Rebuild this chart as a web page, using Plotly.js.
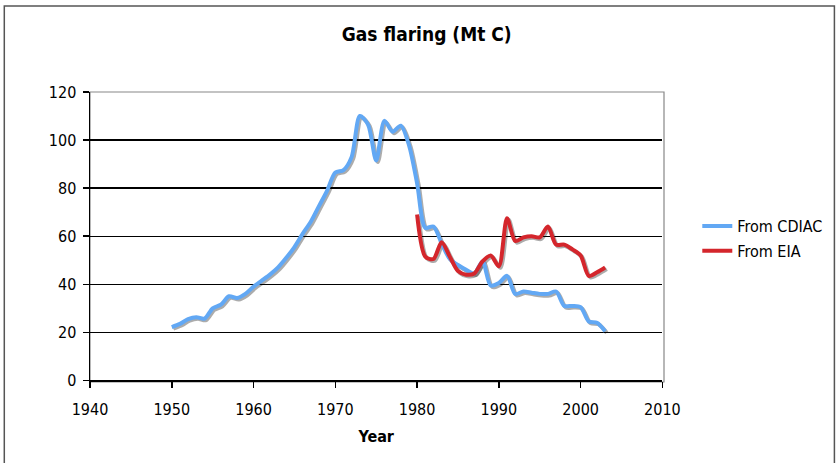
<!DOCTYPE html>
<html>
<head>
<meta charset="utf-8">
<script src="https://cdn.plot.ly/plotly-3.0.1.min.js"></script>
<style>html,body{margin:0;padding:0;background:#fff;}#chart{width:840px;height:463px;}</style>
</head>
<body>
<div id="chart"></div>
<script>
const cdiacYears = [1950,1951,1952,1953,1954,1955,1956,1957,1958,1959,1960,1961,1962,1963,1964,1965,1966,1967,1968,1969,1970,1971,1972,1973,1974,1975,1976,1977,1978,1979,1980,1981,1982,1983,1984,1985,1986,1987,1988,1989,1990,1991,1992,1993,1994,1995,1996,1997,1998,1999,2000,2001,2002,2003];
const cdiacValues = [22.2,23.5,25.5,26.3,25.7,30.0,31.5,35.0,34.3,36.0,39.0,41.5,44.0,47.0,51.0,55.5,61.0,66.0,72.5,79.0,86.5,87.5,93.0,110.0,106.5,91.5,108.0,103.5,106.0,98.0,82.0,63.5,64.0,57.0,50.5,48.0,46.0,44.5,49.5,39.5,40.5,43.5,36.0,37.0,36.5,36.0,36.0,37.0,31.0,31.0,30.5,24.5,24.0,20.5];
const eiaYears = [1980,1981,1982,1983,1984,1985,1986,1987,1988,1989,1990,1991,1992,1993,1994,1995,1996,1997,1998,1999,2000,2001,2002,2003];
const eiaValues = [69.0,51.5,50.5,57.5,51.5,45.5,44.0,44.5,49.5,52.0,47.5,67.5,58.0,59.5,60.0,59.5,64.0,56.5,56.5,54.5,52.0,43.5,45.0,47.0];
const xTicks = [1940,1950,1960,1970,1980,1990,2000,2010];
const yTicks = [0,20,40,60,80,100,120];
const seriesNames = ['From CDIAC','From EIA'];
const titleText = 'Gas flaring (Mt C)';
const xTitleText = 'Year';

const blue = '#62A8F4';
const red = '#D4262C';
const shadow = 'rgba(70,70,70,0.45)';
const font = '"DejaVu Sans Condensed", "DejaVu Sans", sans-serif';
const lineShape = {shape: 'spline', smoothing: 0.8};

const traces = [
  {x: cdiacYears, y: cdiacValues, xaxis:'x', yaxis:'y', mode:'lines', line:Object.assign({color:shadow, width:4}, lineShape), showlegend:false, hoverinfo:'skip'},
  {x: eiaYears, y: eiaValues, xaxis:'x', yaxis:'y', mode:'lines', line:Object.assign({color:shadow, width:4}, lineShape), showlegend:false, hoverinfo:'skip'},
  {x: cdiacYears, y: cdiacValues, xaxis:'x2', yaxis:'y2', name: seriesNames[0], mode:'lines', line:Object.assign({color:blue, width:4}, lineShape), legend:'legend'},
  {x: eiaYears, y: eiaValues, xaxis:'x2', yaxis:'y2', name: seriesNames[1], mode:'lines', line:Object.assign({color:red, width:4}, lineShape), legend:'legend2'}
];

const W = 576, H = 290;
const dx = 1.6 / W, dy = 1.6 / H;

const legendCommon = {
  xanchor: 'left', yanchor: 'middle',
  font: {size: 16, family: font, color: '#000'},
  bgcolor: 'rgba(0,0,0,0)', borderwidth: 0, itemwidth: 30
};

const layout = {
  width: 840, height: 463,
  margin: {l:90, r:174, t:92, b:81},
  paper_bgcolor: '#ffffff', plot_bgcolor: 'rgba(0,0,0,0)',
  font: {family: font, size: 16, color: '#000'},
  title: {text: '<b>' + titleText + '</b>', x: 0.508, xanchor:'center', y: 0.925, yanchor:'middle', font:{family:font, size:19, color:'#000'}},
  xaxis: {domain: [dx, 1], range: [1940, 2010], visible: false, anchor: 'y'},
  yaxis: {domain: [0, 1 - dy], range: [0, 120], visible: false, anchor: 'x'},
  xaxis2: {
    domain: [0, 1 - dx], anchor: 'y2',
    range: [1940, 2010], tickvals: xTicks, ticktext: xTicks.map(String),
    showgrid: false, zeroline: false,
    showline: true, linecolor: '#000', linewidth: 1.5,
    ticks: 'outside', ticklen: 6, tickcolor: '#000', tickwidth: 1.5,
    ticklabelstandoff: 8,
    tickfont: {size: 16, family: font, color:'#000'},
    title: {text: '<b>' + xTitleText + '</b>', font: {size: 16, family: font, color:'#000'}, standoff: 12}
  },
  yaxis2: {
    domain: [dy, 1], anchor: 'x2',
    range: [0, 120], tickvals: yTicks, ticktext: yTicks.map(String),
    showgrid: true, gridcolor: '#000', gridwidth: 1.3,
    zeroline: false,
    showline: true, linecolor: '#000', linewidth: 1.5,
    ticks: 'outside', ticklen: 6, tickcolor: '#000', tickwidth: 1.5,
    ticklabelstandoff: 3,
    tickfont: {size: 16, family: font, color:'#000'}
  },
  legend: Object.assign({x: 1.058, y: 0.538}, legendCommon),
  legend2: Object.assign({x: 1.058, y: 0.452}, legendCommon),
  shapes: [
    {type:'rect', xref:'paper', yref:'paper', x0:0, x1:1, y0:0, y1:1, line:{color:'#888', width:1.2}, layer:'below'},
    {type:'rect', xref:'paper', yref:'paper',
     x0: (4-90)/W, x1: (837-90)/W, y0: (382-470)/H, y1: (382-6)/H,
     line:{color:'#555', width:1.5}}
  ],
  showlegend: true
};

Plotly.newPlot('chart', traces, layout, {displayModeBar:false, staticPlot:true});
</script>
</body>
</html>
